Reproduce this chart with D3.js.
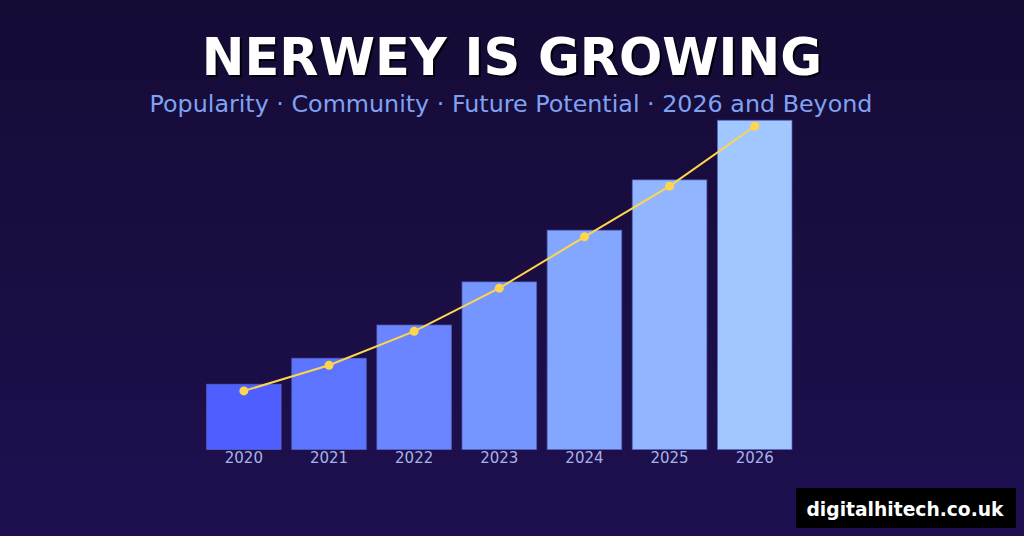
<!DOCTYPE html>
<html>
<head>
<meta charset="utf-8">
<script src="https://cdn.jsdelivr.net/npm/d3@7"></script>
<style>
  html, body { margin: 0; padding: 0; background: #170c38; }
  svg { display: block; }
</style>
</head>
<body>
<svg id="chart" width="1024" height="536"></svg>
<script>
const years = ["2020", "2021", "2022", "2023", "2024", "2025", "2026"];
const barValues = [19.8, 27.7, 37.8, 50.9, 66.6, 81.9, 100];
const lineValues = [17.8, 25.6, 35.9, 49.0, 64.6, 80.0, 98.2];
const barColors = ["#4f5fff", "#5c74ff", "#6a85ff", "#7696ff", "#83a7ff", "#91b6ff", "#a0c7ff"];
const titleText = "NERWEY IS GROWING";
const subtitleText = "Popularity · Community · Future Potential · 2026 and Beyond";
const watermarkText = "digitalhitech.co.uk";

const W = 1024, H = 536;
const svg = d3.select("#chart");
const defs = svg.append("defs");

const bg = defs.append("linearGradient").attr("id", "bg")
  .attr("x1", 0).attr("y1", 0).attr("x2", 0).attr("y2", 1);
bg.append("stop").attr("offset", "0%").attr("stop-color", "#150b35");
bg.append("stop").attr("offset", "100%").attr("stop-color", "#1e1050");
svg.append("rect").attr("width", W).attr("height", H).attr("fill", "url(#bg)");

const x = d3.scaleBand().domain(years).range([201.3, 797.3]).paddingInner(0.125).paddingOuter(0.0625);
const y = d3.scaleLinear().domain([0, 100]).range([449.5, 120.3]);

// bars
svg.append("g").selectAll("rect").data(years).join("rect")
  .attr("x", d => x(d))
  .attr("y", (d, i) => y(barValues[i]))
  .attr("width", x.bandwidth())
  .attr("height", (d, i) => y(0) - y(barValues[i]))
  .attr("fill", (d, i) => barColors[i])
  .attr("stroke", "#5766c4")
  .attr("stroke-opacity", 0.7)
  .attr("stroke-width", 1);

// x axis
const xAxis = svg.append("g").attr("transform", `translate(0,${y(0)})`)
  .call(d3.axisBottom(x).tickSize(0).tickPadding(3));
xAxis.select(".domain").remove();
xAxis.selectAll("text")
  .attr("fill", "#a7b3e6")
  .style("font-family", "DejaVu Sans")
  .style("font-size", "15px");

// line
const line = d3.line()
  .x((d, i) => x(years[i]) + x.bandwidth() / 2)
  .y(d => y(d));
svg.append("path").datum(lineValues)
  .attr("d", line)
  .attr("fill", "none")
  .attr("stroke", "#ffd54a")
  .attr("stroke-width", 2);
svg.append("g").selectAll("circle").data(lineValues).join("circle")
  .attr("cx", (d, i) => x(years[i]) + x.bandwidth() / 2)
  .attr("cy", d => y(d))
  .attr("r", 4.5)
  .attr("fill", "#ffd54a");

// title with shadow
svg.append("text")
  .attr("x", 514).attr("y", 77)
  .attr("text-anchor", "middle")
  .attr("fill", "#000000")
  .attr("fill-opacity", 0.85)
  .style("font-family", "DejaVu Sans")
  .style("font-weight", "bold")
  .style("font-size", "51px")
  .text(titleText);
svg.append("text")
  .attr("x", 512).attr("y", 75)
  .attr("text-anchor", "middle")
  .attr("fill", "#ffffff")
  .style("font-family", "DejaVu Sans")
  .style("font-weight", "bold")
  .style("font-size", "51px")
  .text(titleText);

svg.append("text")
  .attr("x", 511).attr("y", 112)
  .attr("text-anchor", "middle")
  .attr("fill", "#7fa2f2")
  .style("font-family", "DejaVu Sans")
  .style("font-size", "23.8px")
  .text(subtitleText);

// watermark
svg.append("rect")
  .attr("x", 796).attr("y", 488).attr("width", 220).attr("height", 40)
  .attr("fill", "#000000");
svg.append("text")
  .attr("x", 905).attr("y", 516)
  .attr("text-anchor", "middle")
  .attr("fill", "#ffffff")
  .style("font-family", "DejaVu Sans")
  .style("font-weight", "bold")
  .style("font-size", "18.7px")
  .text(watermarkText);
</script>
</body>
</html>
